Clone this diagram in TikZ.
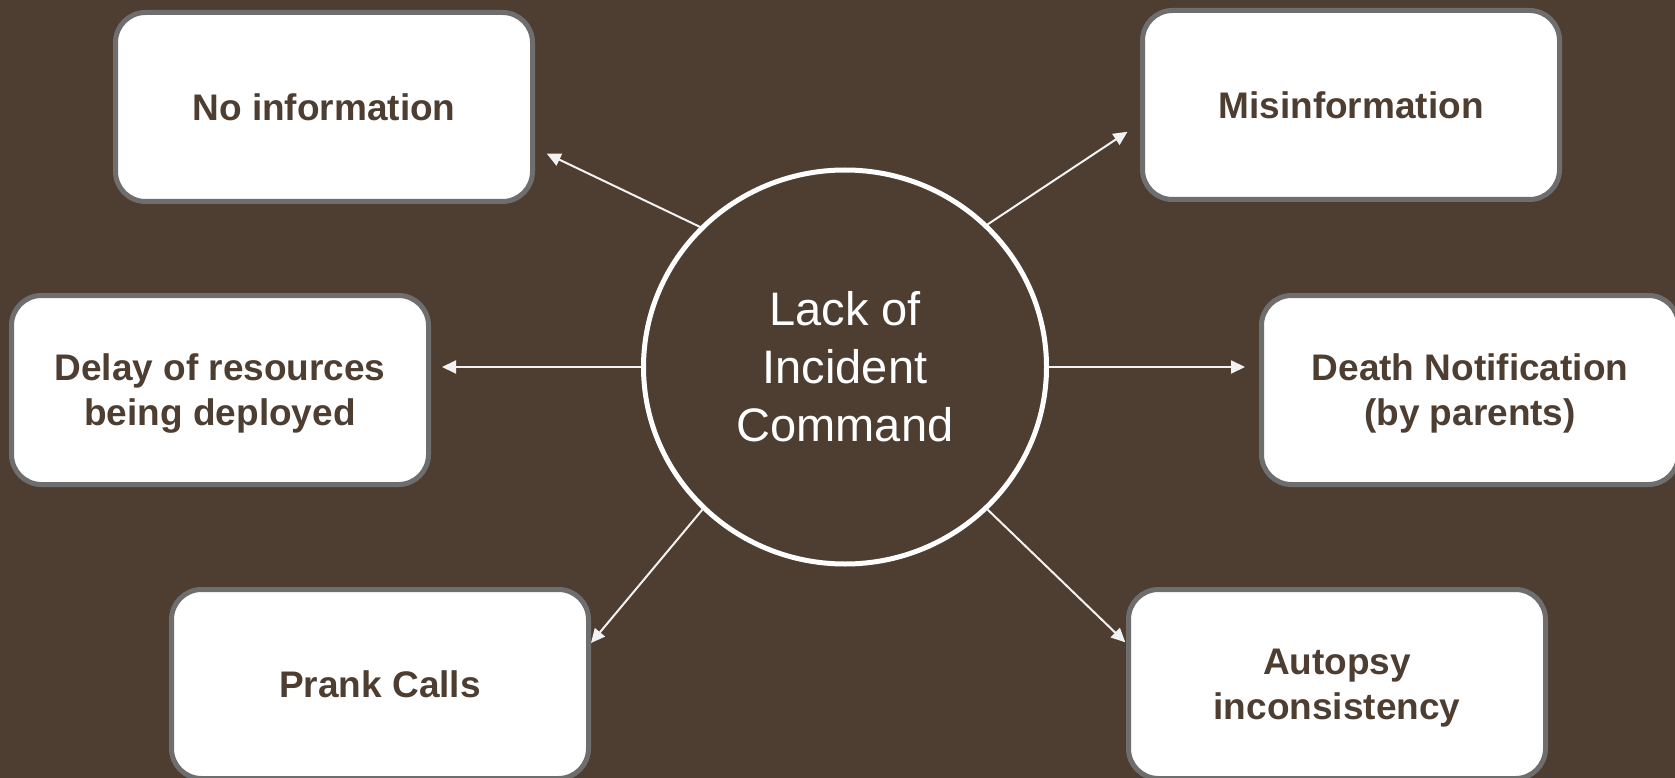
\documentclass[tikz,border=0pt]{standalone}
\usepackage{fontspec}
\setmainfont{Liberation Sans}
\usetikzlibrary{arrows.meta,positioning,shapes.geometric}
\definecolor{BarkBrown}{RGB}{78,62,49}
\definecolor{FrameGray}{RGB}{110,110,110}
\definecolor{ArrowWhite}{RGB}{242,242,242}

\begin{document}
\begin{tikzpicture}[x=1pt,y=-1pt,>={Triangle[length=14pt,width=13pt]},
    effect/.style={draw=FrameGray,line width=5pt,fill=white,rounded corners=30pt,
      minimum width=417pt,minimum height=189pt,align=center,text=BarkBrown,
      text depth=0pt,font=\fontsize{37}{45}\selectfont\bfseries},
    cause/.style={ellipse,draw=white,line width=5pt,fill=BarkBrown,
      minimum width=403pt,minimum height=394pt,align=center,text=white,
      font=\fontsize{47}{58}\selectfont},
    link/.style={->,ArrowWhite,line width=2pt}]
  \fill[BarkBrown] (0,0) rectangle (1675,778);
  \useasboundingbox (0,0) rectangle (1675,778);
  % centre
  \node[cause] (lic) at (845,367) {Lack of\\Incident\\Command};
  % effects
  \node[effect] (noinfo) at (324,107) {No information};
  \node[effect] (misinfo) at (1351,105) {Misinformation};
  \node[effect] (delay) at (220,390) {Delay of resources\\being deployed};
  \node[effect] (death) at (1470,390) {Death Notification\\(by parents)};
  \node[effect] (prank) at (380,684) {Prank Calls};
  \node[effect] (autopsy) at (1337,684) {Autopsy\\inconsistency};
  % arrows
  \draw[link,shorten >=13pt] (lic.136) -- (noinfo.-11);
  \draw[link,shorten >=15pt] (lic.45) -- (misinfo.185);
  \draw[link,shorten >=11pt] (lic.west) -- (lic.west -| delay.east);
  \draw[link,shorten >=14pt] (lic.east) -- (lic.east -| death.west);
  \draw[link] (lic.225) -- (prank.11);
  \draw[link,shorten >=1pt] (lic.-45) -- (autopsy.169);
\end{tikzpicture}
\end{document}
